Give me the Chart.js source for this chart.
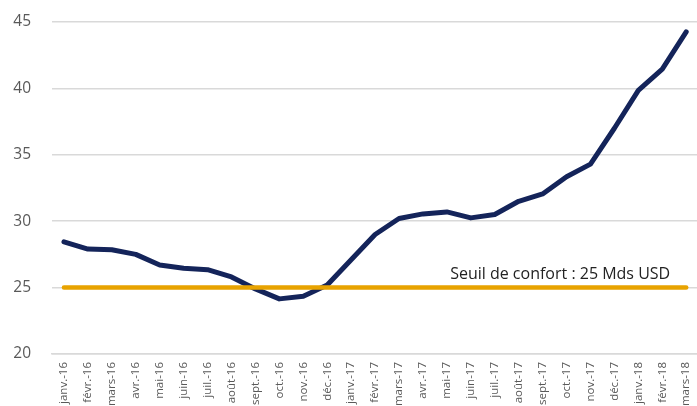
<!DOCTYPE html>
<html>
<head>
<meta charset="utf-8">
<script src="https://cdn.jsdelivr.net/npm/chart.js@4"></script>
<style>
  html, body { margin: 0; padding: 0; background: #fff; overflow: hidden; }
  #wrap { width: 700px; height: 406px; }
</style>
</head>
<body>
<div id="wrap"><canvas id="chart"></canvas></div>
<script>
// Mois (axe des x)
const mois = ['janv.-16', 'févr.-16', 'mars-16', 'avr.-16', 'mai-16', 'juin-16', 'juil.-16', 'août-16',
    'sept.-16', 'oct.-16', 'nov.-16', 'déc.-16', 'janv.-17', 'févr.-17', 'mars-17', 'avr.-17', 'mai-17',
    'juin-17', 'juil.-17', 'août-17', 'sept.-17', 'oct.-17', 'nov.-17', 'déc.-17', 'janv.-18', 'févr.-18', 'mars-18'];

// Valeurs de la série (Mds USD)
const valeurs = [28.45, 27.9, 27.85, 27.5, 26.7, 26.45, 26.35, 25.8, 24.9, 24.15, 24.35, 25.2,
    27.1, 29.0, 30.2, 30.55, 30.7, 30.25, 30.5, 31.5, 32.05, 33.35, 34.3, 37.0, 39.85, 41.45, 44.25];

// Seuil de confort
const seuil = 25;
const seuilTexte = 'Seuil de confort : 25 Mds USD';
const seuilSerie = mois.map(() => seuil);

// Graduations de l'axe des y
const yMin = 20;
const yMax = 45;
const yPas = 5;

// Plugin pour écrire le libellé du seuil au-dessus de la ligne
const seuilLabel = {
    id: 'seuilLabel',
    afterDatasetsDraw(chart) {
        const { ctx, scales } = chart;
        const x = scales.x.getPixelForValue(mois.length - 1) - 16;
        const y = scales.y.getPixelForValue(seuil) - 9;
        ctx.save();
        ctx.font = '16px "Open Sans", sans-serif';
        ctx.fillStyle = '#222';
        ctx.textAlign = 'right';
        ctx.textBaseline = 'alphabetic';
        ctx.fillText(seuilTexte, x, y);
        ctx.restore();
    }
};

new Chart(document.getElementById('chart'), {
    type: 'line',
    data: {
        labels: mois,
        datasets: [{
            label: 'Seuil',
            data: seuilSerie,
            borderColor: 'rgb(232, 163, 0)',
            borderWidth: 4.5,
            borderCapStyle: 'round',
            pointRadius: 0,
            tension: 0
        }, {
            label: 'Réserves',
            data: valeurs,
            borderColor: '#14245a',
            borderWidth: 5,
            borderCapStyle: 'round',
            borderJoinStyle: 'round',
            pointRadius: 0,
            tension: 0
        }]
    },
    options: {
        responsive: true,
        maintainAspectRatio: false,
        animation: false,
        layout: { padding: { left: 12, top: 22, right: 0, bottom: 0 } },
        plugins: {
            legend: { display: false },
            tooltip: { enabled: false }
        },
        scales: {
            x: {
                offset: true,
                grid: { display: false },
                border: { color: '#d9d9d9', width: 1.5 },
                afterFit(axis) { axis.height = 52; },
                ticks: {
                    autoSkip: false,
                    minRotation: 90,
                    maxRotation: 90,
                    color: '#595959',
                    padding: 0,
                    font: { family: '"Open Sans", sans-serif', size: 11.5 }
                }
            },
            y: {
                min: yMin,
                max: yMax,
                border: { display: false },
                afterFit(axis) { axis.width = 40; },
                grid: { color: '#d9d9d9', lineWidth: 1.5, drawTicks: true, tickLength: 21, tickColor: 'rgba(0,0,0,0)' },
                ticks: {
                    stepSize: yPas,
                    color: '#595959',
                    padding: 0,
                    font: { family: '"Open Sans", sans-serif', size: 15.5 }
                }
            }
        }
    },
    plugins: [seuilLabel]
});
</script>
</body>
</html>
